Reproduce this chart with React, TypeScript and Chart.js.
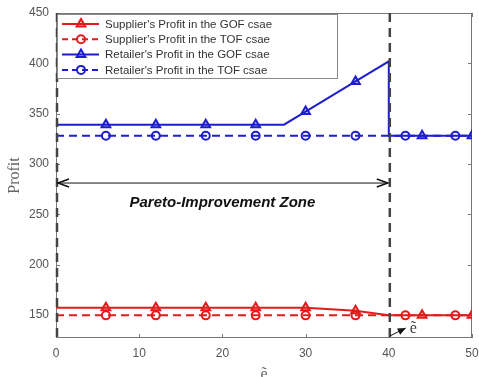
import React, { useEffect, useRef } from "react";
import { Chart, registerables } from "chart.js";

Chart.register(...registerables);

// ---- data ----
const xTicks = [0, 10, 20, 30, 40, 50];
const yTicks = [150, 200, 250, 300, 350, 400, 450];

const supGofX = [0, 6, 12, 18, 24, 30, 36, 40, 44, 50];
const supGofY = [157, 157, 157, 157, 157, 157, 154, 149.5, 149.5, 149.5];
const supGofMarkers = [6, 12, 18, 24, 30, 36, 44, 50];

const supTofX = [0, 6, 12, 18, 24, 30, 36, 42, 48, 50];
const supTofY = [149.5, 149.5, 149.5, 149.5, 149.5, 149.5, 149.5, 149.5, 149.5, 149.5];
const supTofMarkers = [6, 12, 18, 24, 30, 36, 42, 48];

const retGofX = [0, 6, 12, 18, 24, 27.4, 30, 36, 40, 40, 44, 50];
const retGofY = [339, 339, 339, 339, 339, 339, 352, 382, 402, 328, 328, 328];
const retGofMarkers = [6, 12, 18, 24, 30, 36, 44, 50];

const retTofX = [0, 6, 12, 18, 24, 30, 36, 42, 48, 50];
const retTofY = [328, 328, 328, 328, 328, 328, 328, 328, 328, 328];
const retTofMarkers = [6, 12, 18, 24, 30, 36, 42, 48];

const seriesLabels = [
  "Supplier's Profit in the GOF csae",
  "Supplier's Profit in the TOF csae",
  "Retailer's Profit in the GOF csae",
  "Retailer's Profit in the TOF csae",
];

const boundaryX = [0, 40];
const paretoArrowY = 281;
const paretoText = "Pareto-Improvement Zone";
const paretoTextPos = { x: 20, y: 261 };
const yTitle = "Profit";
const xTitle = "ẽ";
const eTildeLabel = "ẽ";

const RED = "#e31b1b";
const BLUE = "#1e1ed0";
const RED_FILL = "rgba(227,27,27,0.25)";
const BLUE_FILL = "rgba(30,30,208,0.25)";

type Style = "triangle" | "circle";

function drawMarker(ctx: CanvasRenderingContext2D, x: number, y: number, style: Style, color: string, fill: string) {
  ctx.save();
  ctx.setLineDash([]);
  ctx.strokeStyle = color;
  ctx.fillStyle = fill;
  ctx.lineWidth = 2;
  ctx.beginPath();
  if (style === "triangle") {
    const r = 5;
    let a = 0;
    ctx.moveTo(x + Math.sin(a) * r, y - Math.cos(a) * r);
    a += (2 * Math.PI) / 3;
    ctx.lineTo(x + Math.sin(a) * r, y - Math.cos(a) * r);
    a += (2 * Math.PI) / 3;
    ctx.lineTo(x + Math.sin(a) * r, y - Math.cos(a) * r);
    ctx.closePath();
  } else {
    ctx.arc(x, y, 4, 0, Math.PI * 2);
  }
  ctx.fill();
  ctx.stroke();
  ctx.restore();
}

export default function App() {
  const ref = useRef<HTMLCanvasElement>(null);

  useEffect(() => {
    document.body.style.margin = "0";
    const canvas = ref.current;
    if (!canvas) return;

    const mk = (xs: number[], ys: number[]) => xs.map((x, i) => ({ x, y: ys[i] }));
    const makeDs = (label: string, xs: number[], ys: number[], markers: number[], color: string, fill: string, dashed: boolean, style: Style) => ({
      label,
      data: mk(xs, ys),
      borderColor: color,
      backgroundColor: fill,
      borderWidth: 2,
      borderDash: dashed ? [8, 5] : [],
      pointStyle: style,
      pointRadius: (c: any) => (c.raw && markers.includes(c.raw.x) ? (style === "triangle" ? 5 : 4) : 0),
      pointHoverRadius: 0,
      pointBorderColor: color,
      pointBackgroundColor: style === "triangle" ? fill : "rgba(0,0,0,0)",
      pointBorderWidth: 2,
      tension: 0,
      fill: false,
      _dashed: dashed,
      _style: style,
      _fill: fill,
    });

    const datasets = [
      makeDs(seriesLabels[0], supGofX, supGofY, supGofMarkers, RED, RED_FILL, false, "triangle"),
      makeDs(seriesLabels[1], supTofX, supTofY, supTofMarkers, RED, RED_FILL, true, "circle"),
      makeDs(seriesLabels[2], retGofX, retGofY, retGofMarkers, BLUE, BLUE_FILL, false, "triangle"),
      makeDs(seriesLabels[3], retTofX, retTofY, retTofMarkers, BLUE, BLUE_FILL, true, "circle"),
    ];

    const decor = {
      id: "decor",
      beforeDatasetsDraw(chart: any) {
        const { ctx, chartArea: a, scales } = chart;
        ctx.save();
        // frame
        ctx.strokeStyle = "#777";
        ctx.lineWidth = 1;
        ctx.strokeRect(Math.round(a.left) + 0.5, Math.round(a.top) + 0.5, Math.round(a.right - a.left) - 1, Math.round(a.bottom - a.top) - 1);
        // inward ticks
        ctx.beginPath();
        for (const t of xTicks) {
          const px = Math.round(scales.x.getPixelForValue(t)) + 0.5;
          ctx.moveTo(px, a.bottom);
          ctx.lineTo(px, a.bottom - 4);
          ctx.moveTo(px, a.top);
          ctx.lineTo(px, a.top + 4);
        }
        for (const t of yTicks) {
          const py = Math.round(scales.y.getPixelForValue(t)) + 0.5;
          ctx.moveTo(a.left, py);
          ctx.lineTo(a.left + 4, py);
          ctx.moveTo(a.right, py);
          ctx.lineTo(a.right - 4, py);
        }
        ctx.stroke();
        ctx.restore();
      },
      afterDatasetsDraw(chart: any) {
        const { ctx, chartArea: a, scales } = chart;
        const sx = scales.x, sy = scales.y;
        ctx.save();
        // vertical dashed boundaries
        ctx.strokeStyle = "#444";
        ctx.lineWidth = 2.5;
        ctx.setLineDash([9, 6]);
        for (const bx of boundaryX) {
          const px = sx.getPixelForValue(bx) + 1;
          ctx.beginPath();
          ctx.moveTo(px, a.top);
          ctx.lineTo(px, a.bottom);
          ctx.stroke();
        }
        ctx.setLineDash([]);

        // Pareto double arrow
        const y = sy.getPixelForValue(paretoArrowY);
        const x1 = sx.getPixelForValue(boundaryX[0]) + 2;
        const x2 = sx.getPixelForValue(boundaryX[1]) - 1;
        ctx.strokeStyle = "#111";
        ctx.fillStyle = "#111";
        ctx.lineWidth = 1;
        ctx.beginPath();
        ctx.moveTo(x1, y);
        ctx.lineTo(x2, y);
        ctx.stroke();
        ctx.lineWidth = 1.5;
        ctx.beginPath();
        ctx.moveTo(x1 + 11, y - 4);
        ctx.lineTo(x1, y);
        ctx.lineTo(x1 + 11, y + 4);
        ctx.moveTo(x2 - 11, y - 4);
        ctx.lineTo(x2, y);
        ctx.lineTo(x2 - 11, y + 4);
        ctx.stroke();

        // Pareto text
        ctx.font = "italic bold 15px 'Liberation Sans', Arial, sans-serif";
        ctx.textAlign = "center";
        ctx.textBaseline = "middle";
        ctx.fillStyle = "#111";
        ctx.fillText(paretoText, sx.getPixelForValue(paretoTextPos.x), sy.getPixelForValue(paretoTextPos.y));

        // small arrow to e-tilde
        const ax0 = sx.getPixelForValue(40) + 1;
        const ay0 = a.bottom - 2;
        const ax1 = ax0 + 16;
        const ay1 = ay0 - 8;
        ctx.lineWidth = 1;
        ctx.beginPath();
        ctx.moveTo(ax0, ay0);
        ctx.lineTo(ax1, ay1);
        ctx.stroke();
        const ang = Math.atan2(ay1 - ay0, ax1 - ax0);
        ctx.beginPath();
        ctx.moveTo(ax1, ay1);
        ctx.lineTo(ax1 - 8 * Math.cos(ang) + 3.5 * Math.sin(ang), ay1 - 8 * Math.sin(ang) - 3.5 * Math.cos(ang));
        ctx.lineTo(ax1 - 8 * Math.cos(ang) - 3.5 * Math.sin(ang), ay1 - 8 * Math.sin(ang) + 3.5 * Math.cos(ang));
        ctx.closePath();
        ctx.fill();
        ctx.font = "16px 'Liberation Serif', 'Times New Roman', serif";
        ctx.textAlign = "left";
        ctx.textBaseline = "alphabetic";
        ctx.fillStyle = "#444";
        ctx.fillText(eTildeLabel, ax1 + 4, ay1 + 5);

        // legend
        const lx = 57, ly = 14, lw = 280, lh = 64;
        ctx.fillStyle = "#fff";
        ctx.fillRect(lx, ly, lw, lh);
        ctx.strokeStyle = "#888";
        ctx.lineWidth = 1;
        ctx.strokeRect(lx + 0.5, ly + 0.5, lw, lh);
        ctx.font = "11.5px 'Liberation Sans', Arial, sans-serif";
        ctx.textBaseline = "middle";
        ctx.textAlign = "left";
        chart.data.datasets.forEach((d: any, i: number) => {
          const yy = ly + 10 + i * 15.3;
          ctx.strokeStyle = d.borderColor;
          ctx.lineWidth = 2;
          ctx.setLineDash(d._dashed ? [6, 4] : []);
          ctx.beginPath();
          ctx.moveTo(lx + 5, yy);
          ctx.lineTo(lx + 42, yy);
          ctx.stroke();
          ctx.setLineDash([]);
          drawMarker(ctx, lx + 24, yy, d._style, d.borderColor, d._style === "triangle" ? d._fill : "rgba(0,0,0,0)");
          ctx.fillStyle = "#333";
          ctx.fillText(d.label, lx + 48, yy + 0.5);
        });

        // axis titles
        ctx.fillStyle = "#666";
        ctx.font = "16px 'Liberation Serif', 'Times New Roman', serif";
        ctx.textAlign = "center";
        ctx.textBaseline = "alphabetic";
        ctx.fillText(xTitle, (a.left + a.right) / 2, 379);
        ctx.save();
        ctx.translate(19, (a.top + a.bottom) / 2);
        ctx.rotate(-Math.PI / 2);
        ctx.textBaseline = "alphabetic";
        ctx.fillText(yTitle, 0, 0);
        ctx.restore();

        ctx.restore();
      },
    };

    const chart = new Chart(canvas, {
      type: "line",
      data: { datasets: datasets as any },
      options: {
        animation: false,
        responsive: false,
        devicePixelRatio: 1,
        layout: { padding: { top: 13, right: 7, left: 0, bottom: 0 } },
        plugins: { legend: { display: false }, tooltip: { enabled: false } },
        scales: {
          x: {
            type: "linear",
            min: 0,
            max: 50,
            afterBuildTicks: (s: any) => { s.ticks = xTicks.map((v) => ({ value: v })); },
            afterFit: (s: any) => { s.height = 39; s.paddingLeft = 0; s.paddingRight = 0; },
            grid: { display: false, drawTicks: false },
            border: { display: false },
            ticks: { color: "#555", font: { size: 12, family: "'Liberation Sans', Arial, sans-serif" }, padding: 8, maxRotation: 0 },
          },
          y: {
            type: "linear",
            min: 127,
            max: 450,
            afterBuildTicks: (s: any) => { s.ticks = yTicks.map((v) => ({ value: v })); },
            afterFit: (s: any) => { s.width = 56; s.paddingTop = 0; s.paddingBottom = 0; },
            grid: { display: false, drawTicks: false },
            border: { display: false },
            ticks: { color: "#555", font: { size: 12, family: "'Liberation Sans', Arial, sans-serif" }, padding: 7 },
          },
        },
      },
      plugins: [decor],
    });
    return () => chart.destroy();
  }, []);

  return (
    <div style={{ width: 479, height: 377, background: "#fff" }}>
      <canvas ref={ref} width={479} height={377} style={{ display: "block" }} />
    </div>
  );
}
